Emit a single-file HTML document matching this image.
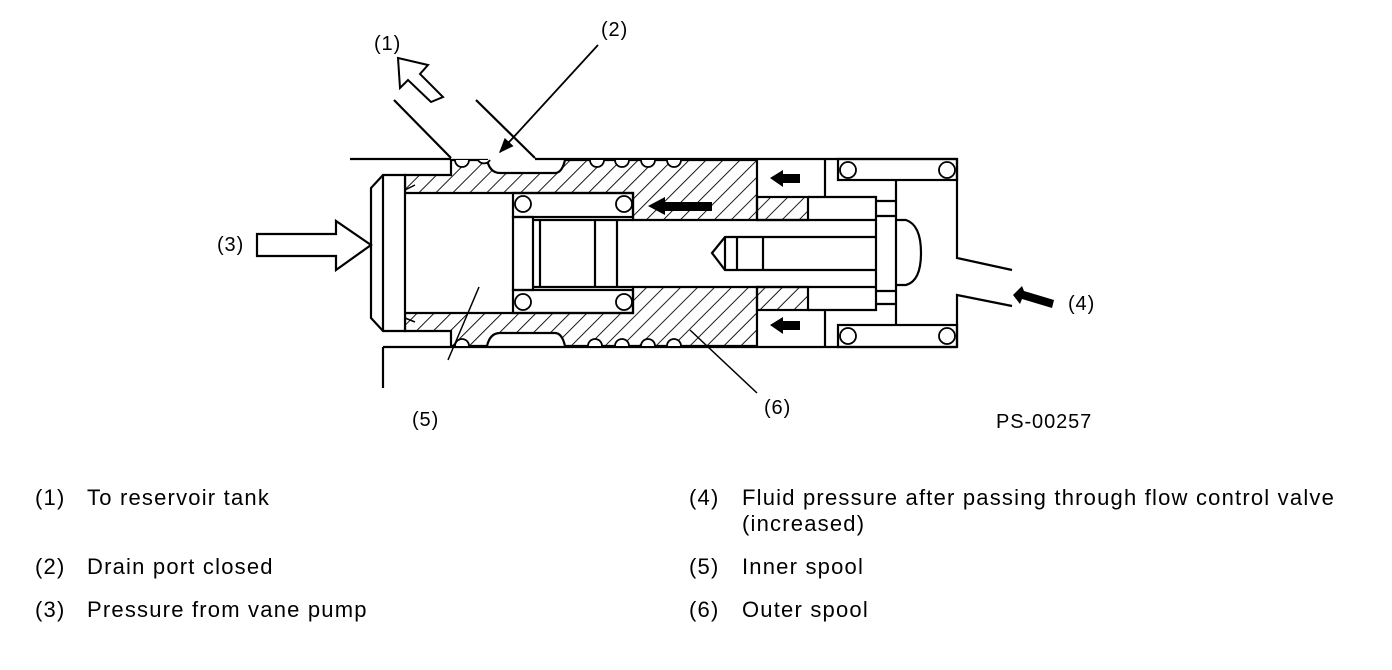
<!DOCTYPE html>
<html><head><meta charset="utf-8"><style>
html,body{margin:0;padding:0;background:#fff;}
body{width:1392px;height:670px;position:relative;overflow:hidden;font-family:"Liberation Sans",sans-serif;}
.t{position:absolute;font-size:22px;letter-spacing:1.2px;color:#000;white-space:nowrap;}
.s{font-size:20px;letter-spacing:0.9px;}
</style></head><body>
<svg width="1392" height="670" style="position:absolute;left:0;top:0" xmlns="http://www.w3.org/2000/svg">
<defs>
<pattern id="h" patternUnits="userSpaceOnUse" width="12" height="12" patternTransform="rotate(45)">
<line x1="0" y1="0" x2="0" y2="12" stroke="#000" stroke-width="1.8"/>
</pattern>
<marker id="ah2" viewBox="0 0 10 8" markerWidth="16" markerHeight="12" refX="9" refY="4" orient="auto" markerUnits="userSpaceOnUse">
<path d="M0,0 L10,4 L0,8 Z" fill="#000"/>
</marker>
</defs>
<g fill="none" stroke="#000" stroke-width="2.2">
<line x1="350" y1="159" x2="451" y2="159"/>
<line x1="394" y1="100" x2="451" y2="158"/>
<line x1="476" y1="100" x2="535" y2="158"/>
<line x1="535" y1="159" x2="757" y2="159"/>
<line x1="383" y1="347" x2="757" y2="347"/>
<line x1="383" y1="347" x2="383" y2="388"/>
<path d="M405,175 L451,175 L451,160 L487,160 Q490,173 500,173 L555,173 Q562,173 565,160 L757,160 L757,220 L633,220 L633,193 L405,193 Z" fill="url(#h)"/>
<path d="M405,331 L451,331 L451,346 L487,346 Q490,333 500,333 L555,333 Q562,333 565,346 L757,346 L757,287 L633,287 L633,313 L405,313 Z" fill="url(#h)"/>
<rect x="757" y="197" width="51" height="23" fill="url(#h)"/>
<rect x="757" y="287" width="51" height="23" fill="url(#h)"/>
<g stroke-width="1.8" fill="#fff">
<path d="M455,160 A7,7 0 0 0 469,160"/><path d="M478,160 A7,7 0 0 0 490,160"/>
<path d="M590,160 A7,7 0 0 0 604,160"/><path d="M615,160 A7,7 0 0 0 629,160"/><path d="M641,160 A7,7 0 0 0 655,160"/><path d="M667,160 A7,7 0 0 0 681,160"/>
<path d="M455,346 A7,7 0 0 1 469,346"/><path d="M588,346 A7,7 0 0 1 602,346"/><path d="M615,346 A7,7 0 0 1 629,346"/><path d="M641,346 A7,7 0 0 1 655,346"/><path d="M667,346 A7,7 0 0 1 681,346"/>
</g>
<path d="M383,175 L405,175 L405,331 L383,331 L371,318 L371,188 Z" fill="#fff"/>
<line x1="383" y1="175" x2="383" y2="331"/>
<path d="M405,190 L415,185 M405,318 L415,322" stroke-width="1.5"/>
<rect x="513" y="193" width="120" height="24"/>
<rect x="513" y="290" width="120" height="23"/>
<rect x="513" y="217" width="20" height="73"/>
<line x1="533" y1="220" x2="633" y2="220"/>
<line x1="533" y1="287" x2="633" y2="287"/>
<line x1="540" y1="220" x2="540" y2="287"/>
<line x1="595" y1="220" x2="595" y2="287"/>
<line x1="617" y1="220" x2="617" y2="287"/>
<g stroke-width="1.8"><circle cx="523" cy="204" r="8"/><circle cx="624" cy="204" r="8"/><circle cx="523" cy="302" r="8"/><circle cx="624" cy="302" r="8"/></g>
<line x1="757" y1="220" x2="876" y2="220"/>
<line x1="757" y1="287" x2="876" y2="287"/>
<path d="M877,237 L725,237 L712,253 L725,270 L877,270"/>
<line x1="725" y1="237" x2="725" y2="270"/>
<line x1="737" y1="237" x2="737" y2="270"/>
<line x1="763" y1="237" x2="763" y2="270"/>
<line x1="757" y1="159" x2="957" y2="159"/>
<path d="M808,197 L876,197 L876,310 L808,310"/>
<line x1="825" y1="159" x2="825" y2="197"/>
<line x1="825" y1="310" x2="825" y2="347"/>
<line x1="757" y1="347" x2="957" y2="347"/>
<line x1="876" y1="201" x2="896" y2="201"/><line x1="876" y1="216" x2="896" y2="216"/>
<line x1="876" y1="291" x2="896" y2="291"/><line x1="876" y1="304" x2="896" y2="304"/>
<line x1="896" y1="180" x2="896" y2="325"/>
<path d="M896,220 L906,220 Q921,225 921,253 Q921,281 906,285 L896,285"/>
<rect x="838" y="159" width="119" height="21"/>
<rect x="838" y="325" width="119" height="22"/>
<g stroke-width="1.8"><circle cx="848" cy="170" r="8"/><circle cx="947" cy="170" r="8"/><circle cx="848" cy="336" r="8"/><circle cx="947" cy="336" r="8"/></g>
<path d="M957,159 L957,258 L1012,270 M957,347 L957,295 L1012,306"/>
<path d="M257,234 L336,234 L336,221 L371,245 L336,270 L336,256 L257,256 Z" fill="#fff"/>
<path d="M398,58 L428,65 L420,74 L443,97 L431,102 L408,80 L400,88 Z" fill="#fff" stroke-width="2"/>
<line x1="598" y1="45" x2="500" y2="152" marker-end="url(#ah2)" stroke-width="1.8"/>
<line x1="448" y1="360" x2="479" y2="287" stroke-width="1.5"/>
<line x1="757" y1="393" x2="690" y2="330" stroke-width="1.5"/>
</g>
<g fill="#000">
<path d="M770,178 L783,170 L783,174 L800,174 L800,183 L783,183 L783,187 Z"/>
<path d="M770,325 L783,317 L783,321 L800,321 L800,330 L783,330 L783,334 Z"/>
<path d="M648,206 L665,197 L665,202 L712,202 L712,211 L665,211 L665,215 Z"/>
<path d="M1013,295 L1022,286 L1024,291 L1054,300 L1052,308 L1022,299 L1020,304 Z"/>
</g>
</svg>
<div class="t s" style="left:374px;top:33px">(1)</div>
<div class="t s" style="left:601px;top:19px">(2)</div>
<div class="t s" style="left:217px;top:234px">(3)</div>
<div class="t s" style="left:1068px;top:293px">(4)</div>
<div class="t s" style="left:412px;top:409px">(5)</div>
<div class="t s" style="left:764px;top:397px">(6)</div>
<div class="t s" style="left:996px;top:411px">PS-00257</div>
<div class="t" style="left:35px;top:485px">(1)</div><div class="t" style="left:87px;top:485px">To reservoir tank</div>
<div class="t" style="left:35px;top:554px">(2)</div><div class="t" style="left:87px;top:554px">Drain port closed</div>
<div class="t" style="left:35px;top:597px">(3)</div><div class="t" style="left:87px;top:597px">Pressure from vane pump</div>
<div class="t" style="left:689px;top:485px">(4)</div><div class="t" style="left:742px;top:485px">Fluid pressure after passing through flow control valve</div>
<div class="t" style="left:742px;top:511px">(increased)</div>
<div class="t" style="left:689px;top:554px">(5)</div><div class="t" style="left:742px;top:554px">Inner spool</div>
<div class="t" style="left:689px;top:597px">(6)</div><div class="t" style="left:742px;top:597px">Outer spool</div>
</body></html>
